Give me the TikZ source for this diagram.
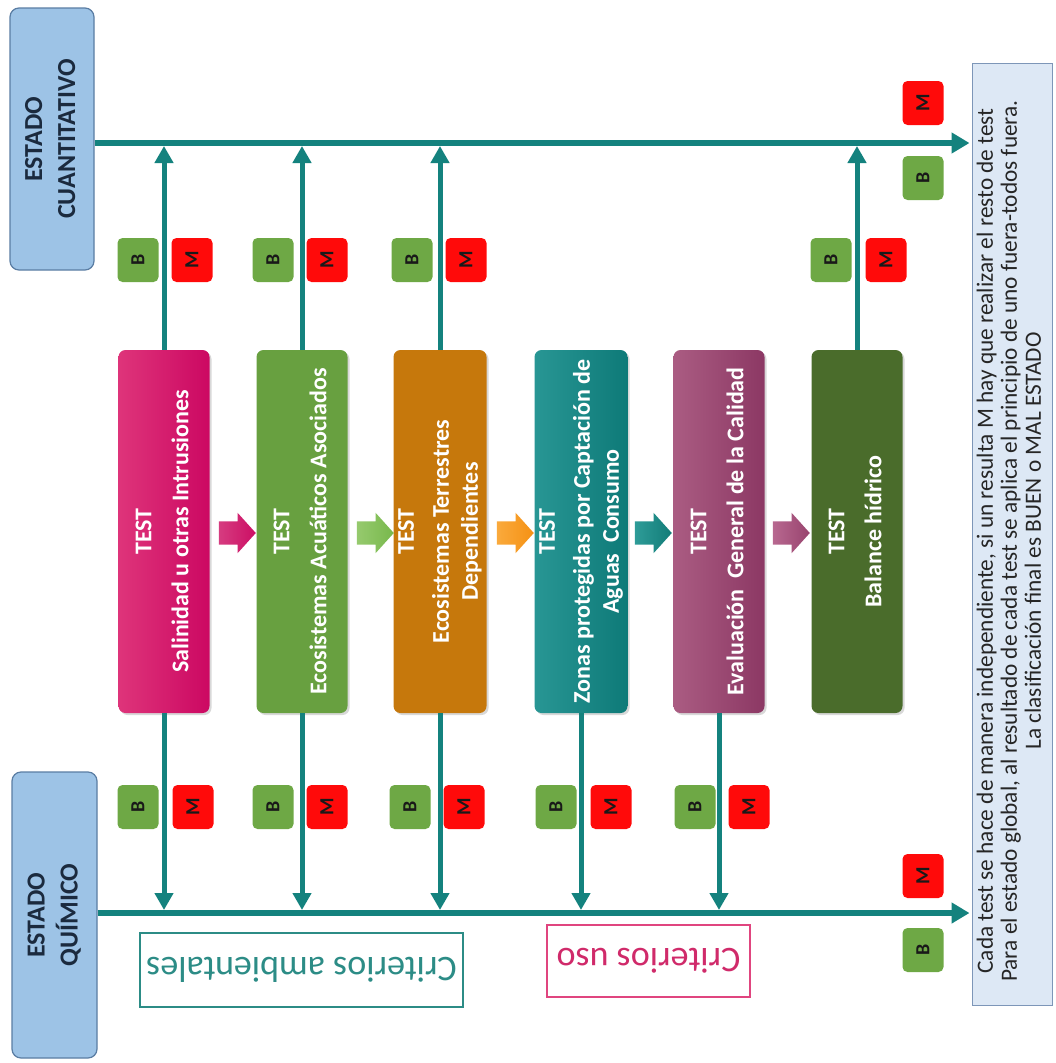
\documentclass[tikz,border=0pt]{standalone}
\usepackage{fontspec}
\usepackage{graphicx}
\setmainfont{Carlito}
\usetikzlibrary{arrows.meta,shadows,shapes.arrows}
\definecolor{estFill}{HTML}{9DC3E6}
\definecolor{estBorder}{HTML}{5A7DA3}
\definecolor{estText}{HTML}{1B2A3E}
\definecolor{lineTeal}{HTML}{14827E}
\definecolor{goodFill}{HTML}{6EA845}
\definecolor{badFill}{HTML}{FF0A0A}
\definecolor{noteFill}{HTML}{DDE8F5}
\definecolor{noteBorder}{HTML}{7D96B8}
\definecolor{ambText}{HTML}{2C8C86}
\definecolor{usoText}{HTML}{D02A6A}
\definecolor{usoBorder}{HTML}{E0457F}
\begin{document}
\begin{tikzpicture}[x=1pt,y=-1pt,
  estado/.style={draw=estBorder,fill=estFill,rounded corners=9pt,line width=1.2pt,inner sep=0pt,text=estText,font=\fontsize{26}{33}\selectfont\bfseries},
  testbox/.style={rounded corners=7pt,minimum width=91pt,minimum height=363pt,inner sep=0pt,text=white,font=\fontsize{24}{29}\selectfont\bfseries,drop shadow={opacity=0.3,shadow xshift=2pt,shadow yshift=-2pt}},
  badge/.style={rounded corners=5pt,minimum width=41pt,minimum height=44pt,inner sep=0pt,font=\fontsize{20}{20}\selectfont\bfseries,text=black!90},
  bgood/.style={badge,fill=goodFill},
  bbad/.style={badge,fill=badFill},
  mainline/.style={draw=lineTeal,line width=5.5pt,-{Triangle[width=20pt,length=18pt]},shorten >=2pt},
  varrow/.style={draw=lineTeal,line width=5pt,-{Triangle[width=18pt,length=17pt]},shorten >=3pt},
  flowarrow/.style={single arrow,minimum height=37pt,inner ysep=11.5pt,inner xsep=0pt,single arrow head extend=8.5pt,single arrow tip angle=96},
  crit/.style={line width=1.2pt,inner sep=0pt,font=\fontsize{36}{36}\selectfont}
]
\useasboundingbox (0,0) rectangle (1055,1063);
\fill[white] (0,0) rectangle (1055,1063);

% estado boxes
\node[estado,minimum width=84pt,minimum height=262pt] (ec) at (52,139)
  {\rotatebox{90}{\begin{tabular}{@{}c@{}}ESTADO\\CUANTITATIVO\end{tabular}}};
\node[estado,minimum width=85pt,minimum height=286pt] (eq) at (54.5,915)
  {\rotatebox{90}{\begin{tabular}{@{}c@{}}ESTADO\\QUÍMICO\end{tabular}}};

% note box
\node[draw=noteBorder,fill=noteFill,line width=1pt,minimum width=80pt,minimum height=942pt,inner sep=0pt,
  font=\fontsize{23.3}{24}\selectfont,text=black!85] (note) at (1012,534)
  {\rotatebox{90}{\begin{tabular}{@{}c@{}}Cada test se hace de manera independiente, si un resulta M hay que realizar el resto de test\\
  Para el estado global, al resultado de cada test se aplica el principio de uno fuera-todos fuera.\\
  La clasificación final es BUEN o MAL ESTADO\end{tabular}\hspace{14pt}}};

% test boxes
\node[testbox,left color={rgb,255:red,222;green,52;blue,122},right color={rgb,255:red,204;green,8;blue,98}] (t1) at (164,531.5)
  {\rotatebox{90}{\begin{tabular}{@{}c@{}}TEST\\[8pt]Salinidad u otras Intrusiones\end{tabular}}};
\node[testbox,fill={rgb,255:red,104;green,160;blue,64}] (t2) at (302,531.5)
  {\rotatebox{90}{\begin{tabular}{@{}c@{}}TEST\\[8pt]Ecosistemas Acuáticos Asociados\end{tabular}}};
\node[testbox,fill={rgb,255:red,198;green,120;blue,12}] (t3) at (440,531.5)
  {\rotatebox{90}{\begin{tabular}{@{}c@{}}TEST\\[6pt]Ecosistemas Terrestres\\Dependientes\end{tabular}}};
\node[testbox,left color={rgb,255:red,40;green,150;blue,148},right color={rgb,255:red,14;green,122;blue,120}] (t4) at (581,531.5)
  {\rotatebox{90}{\begin{tabular}{@{}c@{}}TEST\\[6pt]Zonas protegidas por Captación de\\Aguas\ \ Consumo\end{tabular}}};
\node[testbox,left color={rgb,255:red,170;green,92;blue,130},right color={rgb,255:red,140;green,56;blue,100}] (t5) at (719,531.5)
  {\rotatebox{90}{\begin{tabular}{@{}c@{}}TEST\\[8pt]Evaluación\ \ General de la Calidad\end{tabular}}};
\node[testbox,fill={rgb,255:red,74;green,108;blue,43}] (t6) at (857,531.5)
  {\rotatebox{90}{\begin{tabular}{@{}c@{}}TEST\\[8pt]Balance hídrico\end{tabular}}};

% flow arrows between tests
\node[flowarrow,left color={rgb,255:red,214;green,60;blue,128},right color={rgb,255:red,204;green,14;blue,100}] (a1) at (232,533) {};
\node[flowarrow,left color={rgb,255:red,150;green,202;blue,110},right color={rgb,255:red,120;green,184;blue,76}] (a2) at (370,533) {};
\node[flowarrow,left color={rgb,255:red,250;green,170;blue,60},right color={rgb,255:red,245;green,145;blue,20}] (a3) at (510,533) {};
\node[flowarrow,left color={rgb,255:red,46;green,156;blue,152},right color={rgb,255:red,18;green,124;blue,120}] (a4) at (648,533) {};
\node[flowarrow,left color={rgb,255:red,184;green,104;blue,144},right color={rgb,255:red,152;green,68;blue,110}] (a5) at (786,533) {};

% level coordinates of the two main lines
\coordinate (yq) at (0,143);
\coordinate (yc) at (0,913);

% main lines
\draw[mainline] (ec.east |- yq) -- (note.west |- yq);
\draw[mainline] (eq.east |- yc) -- (note.west |- yc);

% vertical arrows
\foreach \t in {t1,t2,t3,t6}{
  \draw[varrow] (\t.north) -- (\t.north |- yq);
}
\foreach \t in {t1,t2,t3,t4,t5}{
  \draw[varrow] (\t.south) -- (\t.south |- yc);
}

% badges top
\node[bgood] (b1q) at (138,260) {\rotatebox{90}{B}};
\node[bbad]  (m1q) at (192,260) {\rotatebox{90}{M}};
\node[bgood] (b2q) at (273,260) {\rotatebox{90}{B}};
\node[bbad]  (m2q) at (327,260) {\rotatebox{90}{M}};
\node[bgood] (b3q) at (412,260) {\rotatebox{90}{B}};
\node[bbad]  (m3q) at (466,260) {\rotatebox{90}{M}};
\node[bgood] (b6q) at (831,260) {\rotatebox{90}{B}};
\node[bbad]  (m6q) at (886,260) {\rotatebox{90}{M}};
% badges bottom
\node[bgood] (b1c) at (138,807) {\rotatebox{90}{B}};
\node[bbad]  (m1c) at (193,807) {\rotatebox{90}{M}};
\node[bgood] (b2c) at (273,807) {\rotatebox{90}{B}};
\node[bbad]  (m2c) at (327,807) {\rotatebox{90}{M}};
\node[bgood] (b3c) at (410,807) {\rotatebox{90}{B}};
\node[bbad]  (m3c) at (464,807) {\rotatebox{90}{M}};
\node[bgood] (b4c) at (556,807) {\rotatebox{90}{B}};
\node[bbad]  (m4c) at (611,807) {\rotatebox{90}{M}};
\node[bgood] (b5c) at (695,807) {\rotatebox{90}{B}};
\node[bbad]  (m5c) at (749,807) {\rotatebox{90}{M}};
% final badges
\node[bbad]  (mfq) at (923,103) {\rotatebox{90}{M}};
\node[bgood] (bfq) at (923,178) {\rotatebox{90}{B}};
\node[bbad]  (mfc) at (923,876) {\rotatebox{90}{M}};
\node[bgood] (bfc) at (923,950) {\rotatebox{90}{B}};

% criterios boxes
\node[crit,draw=ambText,text=ambText,minimum width=323pt,minimum height=74pt] (amb) at (301.5,970)
  {\rotatebox{180}{Criterios ambientales}};
\node[crit,draw=usoBorder,text=usoText,minimum width=203pt,minimum height=72pt] (uso) at (648.5,961)
  {\rotatebox{180}{Criterios uso}};
\end{tikzpicture}
\end{document}
